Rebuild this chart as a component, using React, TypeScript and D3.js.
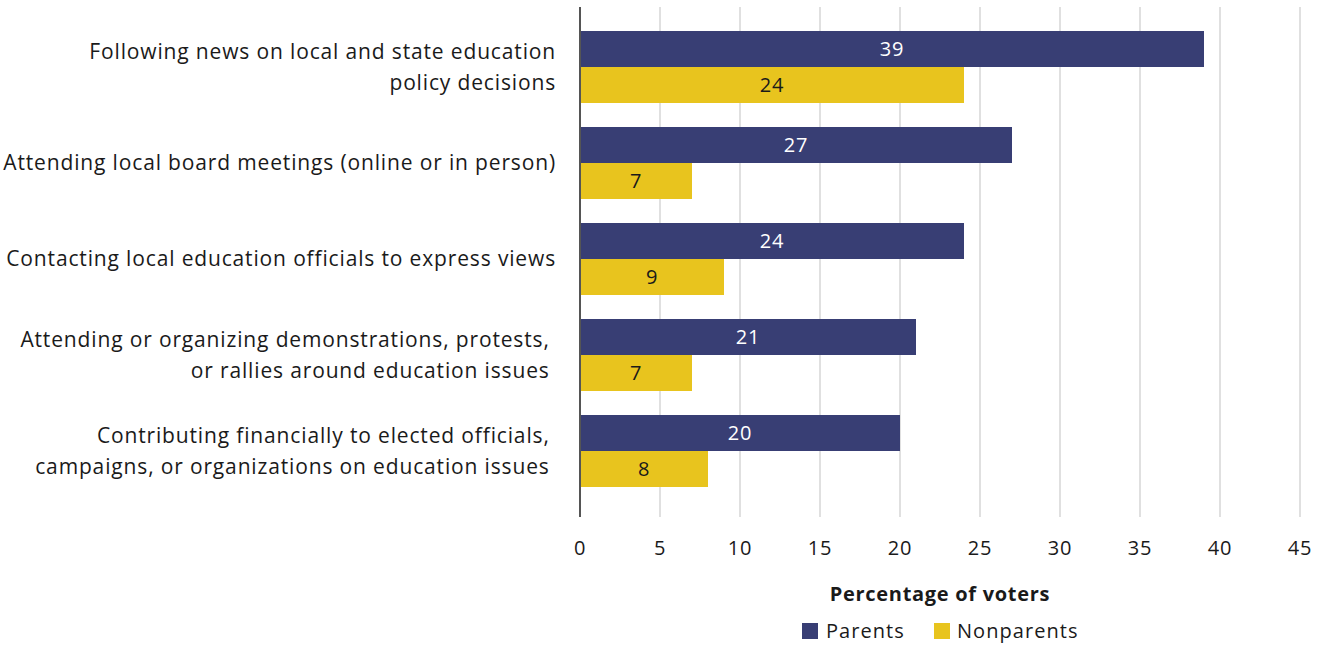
import React from "react";
import * as d3 from "d3";

const categories: string[][] = [
  ["Following news on local and state education", "policy decisions"],
  ["Attending local board meetings (online or in person)"],
  ["Contacting local education officials to express views"],
  ["Attending or organizing demonstrations, protests,\u00a0", "or rallies around education issues\u00a0"],
  ["Contributing financially to elected officials,\u00a0", "campaigns, or organizations on education issues\u00a0"],
];
const parents = [39, 27, 24, 21, 20];
const nonparents = [24, 7, 9, 7, 8];
const seriesNames = ["Parents", "Nonparents"];
const xTicks = [0, 5, 10, 15, 20, 25, 30, 35, 40, 45];
const axisTitle = "Percentage of voters";

const W = 1326;
const H = 645;
const COLORS = ["#383e74", "#e8c41e"];
const FONT = "'Open Sans', sans-serif";

export default function App() {
  const x = d3.scaleLinear().domain([0, 45]).range([580, 1300]);
  const ids = categories.map((_, i) => String(i));
  const y = d3.scaleBand().domain(ids).range([7, 511]).paddingInner(0.25).paddingOuter(0.25);
  const sub = d3.scaleBand().domain(seriesNames).range([0, y.bandwidth()]);
  const series = [parents, nonparents];
  const textColor = "#1a1a1a";

  return (
    <svg width={W} height={H} style={{ position: "absolute", left: 0, top: 0, fontFamily: FONT }}>
      <rect x={0} y={0} width={W} height={H} fill="#fff" />
      {xTicks.filter((t) => t > 0).map((t) => (
        <line key={t} x1={x(t)} x2={x(t)} y1={7} y2={517} stroke="#e0e0e0" strokeWidth={2} />
      ))}
      {series.map((vals, si) =>
        vals.map((v, i) => {
          const by = (y(ids[i]) as number) + (sub(seriesNames[si]) as number);
          return (
            <g key={`${si}-${i}`}>
              <rect x={x(0)} y={by} width={x(v) - x(0)} height={sub.bandwidth()} fill={COLORS[si]} />
              <text
                x={(x(0) + x(v)) / 2}
                y={by + sub.bandwidth() / 2}
                dy="0.36em"
                textAnchor="middle"
                fontSize={20}
                letterSpacing={0.8}
                fill={si === 0 ? "#ffffff" : textColor}
              >
                {v}
              </text>
            </g>
          );
        })
      )}
      <line x1={x(0)} x2={x(0)} y1={7} y2={517} stroke="#555" strokeWidth={2} />
      {categories.map((lines, i) => {
        const cy = (y(ids[i]) as number) + y.bandwidth() / 2 - 0.5;
        const lh = 31;
        const start = cy - ((lines.length - 1) * lh) / 2;
        return (
          <text key={i} textAnchor="end" fontSize={21} letterSpacing={0.85} fill={textColor} style={{ whiteSpace: "pre" }}>
            {lines.map((l, j) => (
              <tspan key={j} x={556} y={start + j * lh} dy="0.36em">
                {l}
              </tspan>
            ))}
          </text>
        );
      })}
      {xTicks.map((t) => (
        <text key={t} x={x(t)} y={548} dy="0.36em" textAnchor="middle" fontSize={20} letterSpacing={0.8} fill={textColor}>
          {t}
        </text>
      ))}
      <text x={940} y={594} dy="0.36em" textAnchor="middle" fontSize={20} fontWeight="bold" letterSpacing={0.7} fill={textColor}>
        {axisTitle}
      </text>
      <g>
        <rect x={802} y={623} width={16} height={16} fill={COLORS[0]} />
        <text x={826} y={631} dy="0.36em" fontSize={20} letterSpacing={1.05} fill={textColor}>
          {seriesNames[0]}
        </text>
        <rect x={934} y={623} width={16} height={16} fill={COLORS[1]} />
        <text x={957} y={631} dy="0.36em" fontSize={20} letterSpacing={1.05} fill={textColor}>
          {seriesNames[1]}
        </text>
      </g>
    </svg>
  );
}
